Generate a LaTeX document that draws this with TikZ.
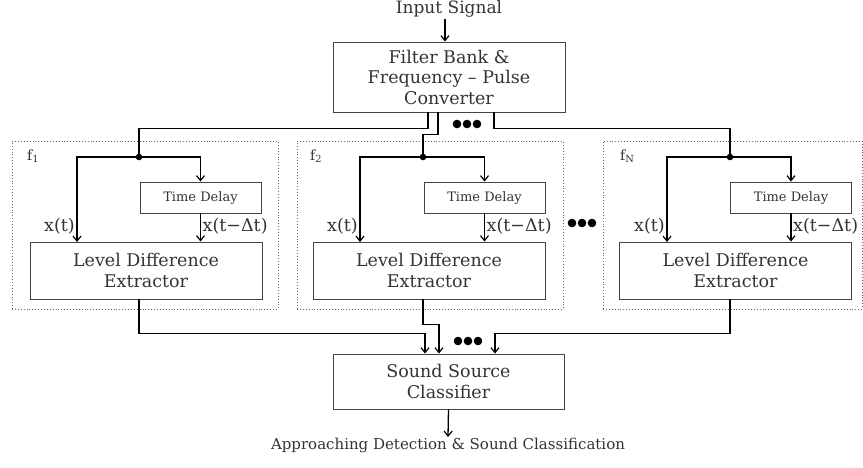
\documentclass[tikz,border=0pt]{standalone}
\usepackage{fontspec}
\setmainfont{DejaVu Serif}
\usetikzlibrary{arrows.meta,calc}
\definecolor{txt}{HTML}{333333}
\definecolor{bord}{HTML}{444444}
\tikzset{
 blk/.style={draw=bord, line width=0.9pt, text=txt, align=center, inner sep=0pt, font=\fontsize{17.5}{20.5}\selectfont},
 tdbox/.style={blk, font=\fontsize{13}{15}\selectfont},
 conn/.style={line width=1.3pt, black},
 arr/.style={conn, -{Straight Barb[length=5pt,width=8pt,line width=1.2pt]}},
 grp/.style={draw=gray!80!black, dotted, line width=0.9pt, inner sep=0pt},
 lbl/.style={text=txt, font=\fontsize{17.5}{20}\selectfont, inner sep=1pt},
 flbl/.style={text=txt, font=\fontsize{14}{16}\selectfont, inner sep=0pt},
}
\begin{document}
\begin{tikzpicture}[x=1pt,y=-1pt]
\useasboundingbox (0,0) rectangle (863,467);
% input
\node[lbl, font=\fontsize{17}{19}\selectfont] (in) at (449,9) {Input Signal};
\node[blk, minimum width=232pt, minimum height=70pt] (fb) at (449,77) {Filter Bank \&\\Frequency – Pulse\\Converter};
\draw[arr] (in.south -| 445,0) -- (fb.north -| 445,0);
% branches
\foreach \n/\gx/\gw/\jx/\xl/\tdx/\ldx/\fx/\fl in {1/145/266/139/77/200.5/146/27/{f\textsubscript{1}}, 2/430/266/423/360/484.5/429/310/{f\textsubscript{2}}, N/732.5/259/730/667/791/735.5/620/{f\textsubscript{N}}}{
  \node[grp, minimum width=\gw pt, minimum height=168pt] (g\n) at (\gx,225) {};
  \node[flbl, anchor=west] (lab\n) at (\fx,156) {\fl};
  \coordinate (j\n) at (\jx,157);
  \node[tdbox, minimum width=121pt, minimum height=31pt] (td\n) at (\tdx,197.5) {Time Delay};
  \node[blk, minimum width=232pt, minimum height=57pt] (lde\n) at (\ldx,270.5) {Level Difference\\Extractor};
  \coordinate (xl\n) at (\xl,242);
  \draw[arr] (j\n) -| (td\n.north);
  \draw[arr] (j\n) -| (xl\n);
  \draw[arr] (td\n.south) -- (td\n.south |- lde\n.north);
  \fill (j\n) circle (3.3pt);
  \node[lbl, anchor=east] (xt\n) at (\xl-1,226) {x(t)};
  \node[lbl, anchor=west] (xd\n) at (\tdx+1,226) {x(t−Δt)};
}
% top connectors
\draw[conn] ([xshift=-21pt]fb.south) -- ++(0,16) -| (j1);
\draw[conn] ([xshift=-11pt]fb.south) -- ++(0,22) -| (j2);
\draw[conn] ([xshift=45pt]fb.south) -- ++(0,16) -| (jN);
\foreach \d in {-10,0,10}{ \fill (467+\d,124) circle (4.3pt); }
\foreach \d in {-10,0,10}{ \fill (582+\d,223) circle (4.3pt); }
% classifier
\node[blk, minimum width=231pt, minimum height=55pt] (sc) at (448.5,381.5) {Sound Source\\Classifier};
\draw[arr] (lde1.south -| j1) -- ++(0,34) -| ([xshift=-23.5pt]sc.north);
\draw[arr] (lde2.south -| j2) -- ++(0,25) -| ([xshift=-9.5pt]sc.north);
\draw[arr] (ldeN.south -| jN) -- ++(0,34) -| ([xshift=46.5pt]sc.north);
\foreach \d in {-10,0,10}{ \fill (468+\d,341) circle (4.3pt); }
\node[lbl, font=\fontsize{15}{17}\selectfont, anchor=north] (out) at (448,437) {Approaching Detection \& Sound Classification};
\draw[arr] (sc.south) -- (out.north);
\end{tikzpicture}
\end{document}
